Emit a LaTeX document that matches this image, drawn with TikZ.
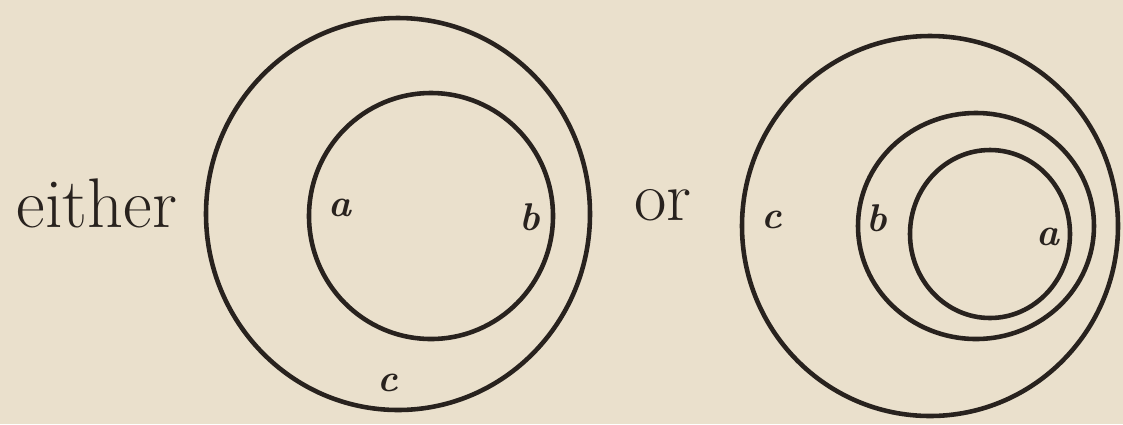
\documentclass[tikz,border=0pt]{standalone}
\usepackage{tikz}

\definecolor{paper}{RGB}{234,224,204}
\definecolor{ink}{RGB}{40,34,30}

\tikzset{
    ring/.style={line width=2.6pt, draw=ink},
    word/.style={text=ink, font=\fontsize{40}{44}\selectfont},
    letter/.style={text=ink, font=\fontsize{22}{24}\selectfont\bfseries\itshape}
}

\begin{document}
\begin{tikzpicture}[x=0.02cm,y=-0.02cm]
        % Фон страницы.
        \fill[paper] (0,0) rectangle (1123,424);
        \useasboundingbox (0,0) rectangle (1123,424);

        % Первый случай: b внутри c.
        \node[word] (either) at (97,203) {either};
        \draw[ring] (398,214) ellipse (192 and 196);
        \draw[ring] (431,216) ellipse (122 and 123);

        \node[letter] (a1) at (340,208) {a};
        \node[letter] (b1) at (530,217) {b};
        \node[letter] (c1) at (388,383) {c};

        % Второй случай: a внутри b, b внутри c.
        \node[word] (or) at (663,205) {or};
        \draw[ring] (930,226) ellipse (188 and 190);
        \draw[ring] (976,226) ellipse (118 and 113);
        \draw[ring] (990,234) ellipse (80 and 84);

        \node[letter] (c2) at (772,220) {c};
        \node[letter] (b2) at (877,218) {b};
        \node[letter] (a2) at (1048,237) {a};
    \end{tikzpicture}
\end{document}
